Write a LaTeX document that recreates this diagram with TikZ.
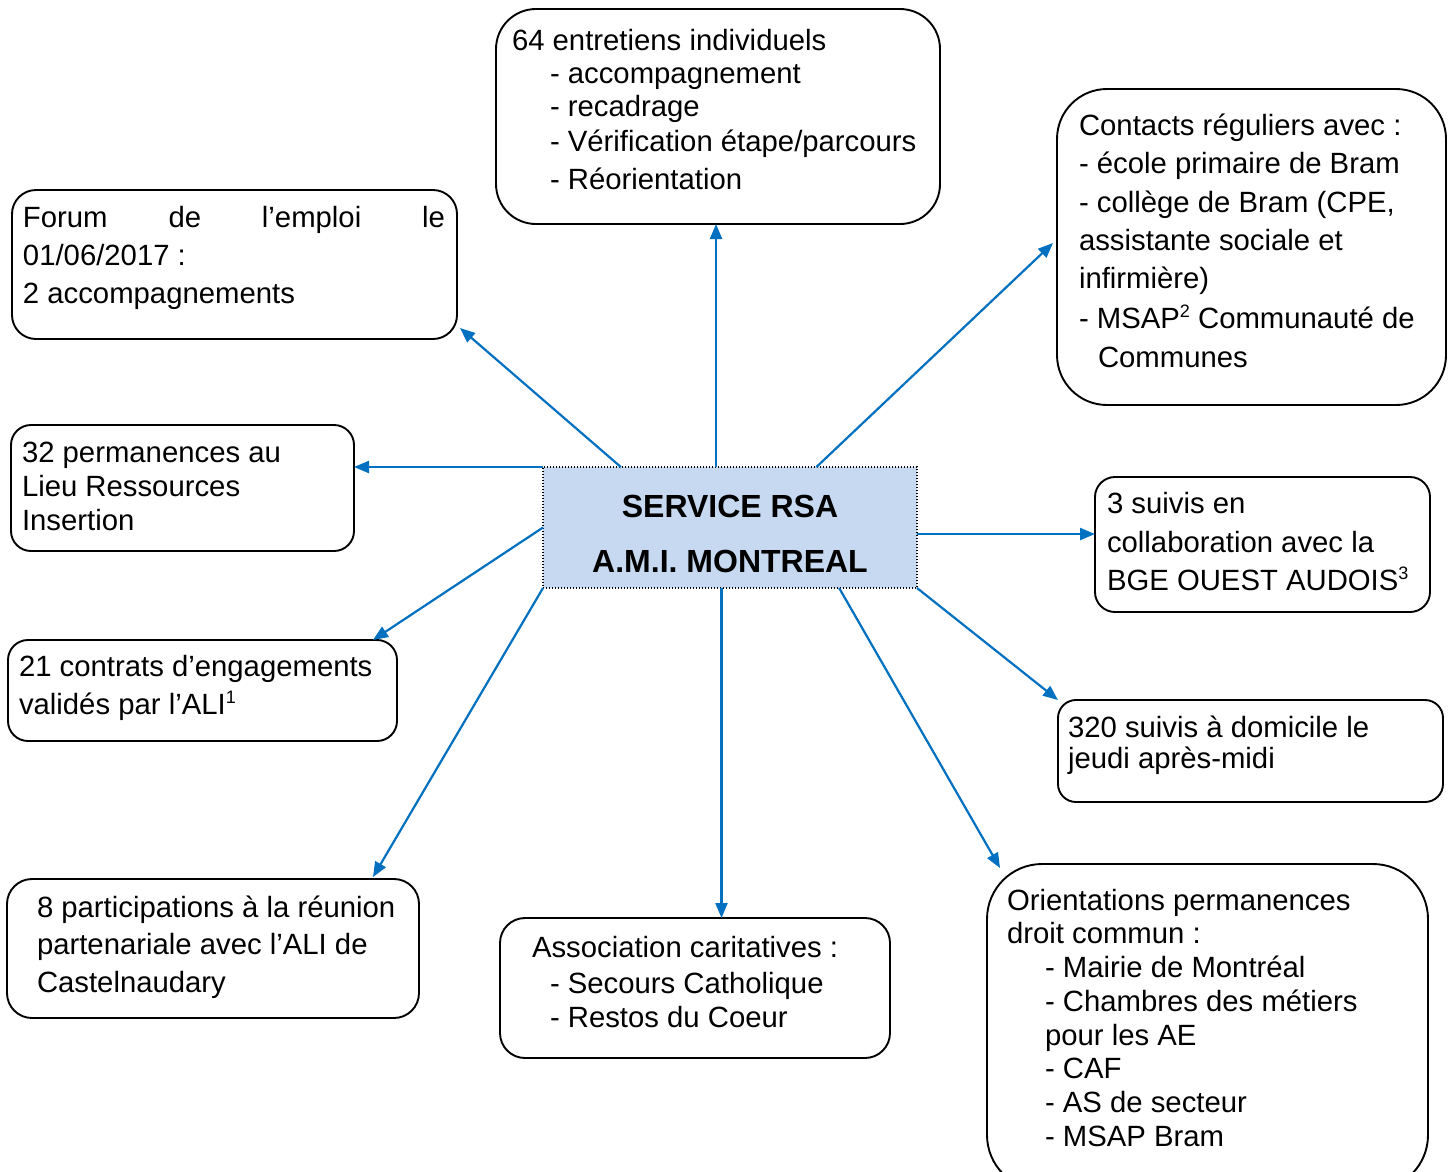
\documentclass[tikz,border=0pt]{standalone}
\usepackage{fontspec}
\setmainfont{Liberation Sans}
\usetikzlibrary{arrows.meta,calc}
\definecolor{arrowblue}{HTML}{0070C0}
\definecolor{centerfill}{HTML}{C6D9F1}
\newcommand\fs{\fontsize{29.3}{34}\selectfont}
\newcommand\fsb{\fontsize{32}{36}\selectfont\bfseries}
\newcommand\sups[1]{\raisebox{11pt}{\fontsize{18}{18}\selectfont #1}}
\begin{document}
\begin{tikzpicture}[x=1pt,y=-1pt,
  box/.style={draw=black, line width=1.9pt, fill=white, inner sep=0, outer sep=0},
  centerbox/.style={draw=black, line width=1.4pt, dash pattern=on 1.4pt off 1.6pt, fill=centerfill, inner sep=0, outer sep=0},
  txt/.style={anchor=base west, inner sep=0, outer sep=0, font=\fs},
  ctxt/.style={anchor=base, inner sep=0, outer sep=0, font=\fsb},
  link/.style={draw=arrowblue, line width=2.2pt, -{Triangle[length=15pt,width=12pt]}}]
\clip (0,0) rectangle (1453,1171);
\fill[white] (0,0) rectangle (1453,1171);

% boxes
\node[box, rounded corners=40pt, minimum width=444, minimum height=215] (top) at (718,116.5) {};
\node[box, rounded corners=50pt, minimum width=389, minimum height=316] (contacts) at (1251.5,247) {};
\node[box, rounded corners=24pt, minimum width=445, minimum height=149] (forum) at (234.5,264.5) {};
\node[box, rounded corners=20pt, minimum width=343, minimum height=126] (perm) at (182.5,488) {};
\node[box, rounded corners=20pt, minimum width=335, minimum height=135] (suivis) at (1262.5,544.5) {};
\node[centerbox, minimum width=374, minimum height=121] (c) at (730,527.5) {};
\node[box, rounded corners=20pt, minimum width=389, minimum height=101] (contrats) at (202.5,690.5) {};
\node[box, rounded corners=18pt, minimum width=385, minimum height=102] (s320) at (1250.5,751) {};
\node[box, rounded corners=25pt, minimum width=412, minimum height=139] (part) at (213,948.5) {};
\node[box, rounded corners=25pt, minimum width=390, minimum height=140] (assoc) at (695,988) {};
\node[box, rounded corners=55pt, minimum width=441, minimum height=326] (orient) at (1207.5,1027) {};

% connectors
\draw[link] (c.103) -- (c.103 |- top.south);
\draw[link] (c.151.7) -- ($(forum.south east)+(3,-11)$);
\draw[link] (c.35) -- ($(contacts.north west)+(-4,154)$);
\draw[link] (c.north west) -- (c.north west -| perm.east);
\draw[link] (c.-2.6) -- (c.-2.6 -| suivis.west);
\draw[link] (c.west) -- ($(contrats.north east)+(-24,0)$);
\draw[link] (c.south east) -- (s320.north west);
\draw[link] (c.south west) -- ($(part.north east)+(-46,-2)$);
\draw[link] (c.-98.5) -- (c.-98.5 |- assoc.north);
\draw[link] (c.-29.5) -- ($(orient.north west)+(13,4)$);

% texts
\node[txt] (ta1) at (512,50) {64 entretiens individuels};
\node[txt] (ta2) at (550,83) {- accompagnement};
\node[txt] (ta3) at (550,116) {- recadrage};
\node[txt] (ta4) at (550,151) {- Vérification étape/parcours};
\node[txt] (ta5) at (550,189) {- Réorientation};

\node[txt] (tb1) at (1079,135) {Contacts réguliers avec :};
\node[txt] (tb2) at (1079,173) {- école primaire de Bram};
\node[txt] (tb3) at (1079,212) {- collège de Bram (CPE,};
\node[txt] (tb4) at (1079,250) {assistante sociale et};
\node[txt] (tb5) at (1079,288) {infirmière)};
\node[txt] (tb6) at (1079,328) {- MSAP\sups{2} Communauté de};
\node[txt] (tb7) at (1098,367) {Communes};

\node[txt] (tc1) at (23,227) {\makebox[422pt][l]{Forum\hfill de\hfill l’emploi\hfill le}};
\node[txt] (tc2) at (23,265) {01/06/2017 :};
\node[txt] (tc3) at (23,303) {2 accompagnements};

\node[txt] (td1) at (22,462) {32 permanences au};
\node[txt] (td2) at (22,496) {Lieu Ressources};
\node[txt] (td3) at (22,530) {Insertion};

\node[txt] (te1) at (1107,513) {3 suivis en};
\node[txt] (te2) at (1107,552) {collaboration avec la};
\node[txt] (te3) at (1107,590) {BGE OUEST AUDOIS\sups{3}};

\node[ctxt] (tf1) at (730,517) {SERVICE RSA};
\node[ctxt] (tf2) at (730,572) {A.M.I. MONTREAL};

\node[txt] (tg1) at (19,676) {21 contrats d’engagements};
\node[txt] (tg2) at (19,714) {validés par l’ALI\sups{1}};

\node[txt] (th1) at (1068,737) {320 suivis à domicile le};
\node[txt] (th2) at (1068,768) {jeudi après-midi};

\node[txt] (ti1) at (37,917) {8 participations à la réunion};
\node[txt] (ti2) at (37,954) {partenariale avec l’ALI de};
\node[txt] (ti3) at (37,992) {Castelnaudary};

\node[txt] (tj1) at (532,957) {Association caritatives :};
\node[txt] (tj2) at (550,993) {- Secours Catholique};
\node[txt] (tj3) at (550,1027) {- Restos du Coeur};

\node[txt] (tk1) at (1007,910) {Orientations permanences};
\node[txt] (tk2) at (1007,943) {droit commun :};
\node[txt] (tk3) at (1045,977) {- Mairie de Montréal};
\node[txt] (tk4) at (1045,1011) {- Chambres des métiers};
\node[txt] (tk5) at (1045,1045) {pour les AE};
\node[txt] (tk6) at (1045,1078) {- CAF};
\node[txt] (tk7) at (1045,1112) {- AS de secteur};
\node[txt] (tk8) at (1045,1146) {- MSAP Bram};
\end{tikzpicture}
\end{document}
